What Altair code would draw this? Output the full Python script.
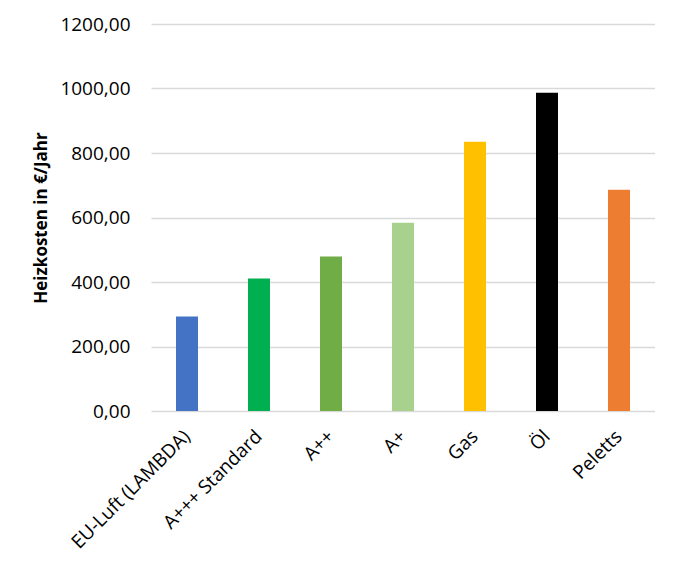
import altair as alt
import pandas as pd

categories = ["EU-Luft (LAMBDA)", "A+++ Standard", "A++", "A+", "Gas", "Öl", "Peletts"]
values = [293, 411, 479, 584, 835, 987, 686]
colors = ["#4472C4", "#00B050", "#70AD47", "#A9D18E", "#FFC000", "#000000", "#ED7D31"]

df = pd.DataFrame({"cat": categories, "val": values, "col": colors})

FONT = "Open Sans"

chart = alt.Chart(df).mark_bar(size=22).encode(
    x=alt.X("cat:N", sort=categories, title=None,
            scale=alt.Scale(paddingInner=0, paddingOuter=0),
            axis=alt.Axis(labelAngle=-45, labelAlign="right", labelBaseline="middle",
                          labelPadding=22, ticks=False, tickSize=0, domain=False,
                          labelFont=FONT, labelFontSize=19, labelColor="#000000")),
    y=alt.Y("val:Q", title="Heizkosten in €/Jahr",
            scale=alt.Scale(domain=[0, 1200], nice=False),
            axis=alt.Axis(values=[0, 200, 400, 600, 800, 1000, 1200],
                          labelExpr="replace(format(datum.value, '.2f'), '.', ',')",
                          ticks=False, tickSize=0, domain=False, labelPadding=21,
                          gridColor="#D9D9D9", gridWidth=1.3,
                          labelFont=FONT, labelFontSize=19, labelColor="#000000",
                          titleFont=FONT, titleFontSize=17, titleFontWeight="bold",
                          titleColor="#000000", titlePadding=9)),
    color=alt.Color("col:N", scale=None, legend=None),
).properties(
    width=504, height=387,
    background="#FFFFFF",
    autosize=alt.AutoSizeParams(type="none"),
    padding={"left": 143, "top": 16, "right": 0, "bottom": 155},
).configure_view(stroke=None)

chart.save("out.html", embed_options={"renderer": "svg", "actions": False})
